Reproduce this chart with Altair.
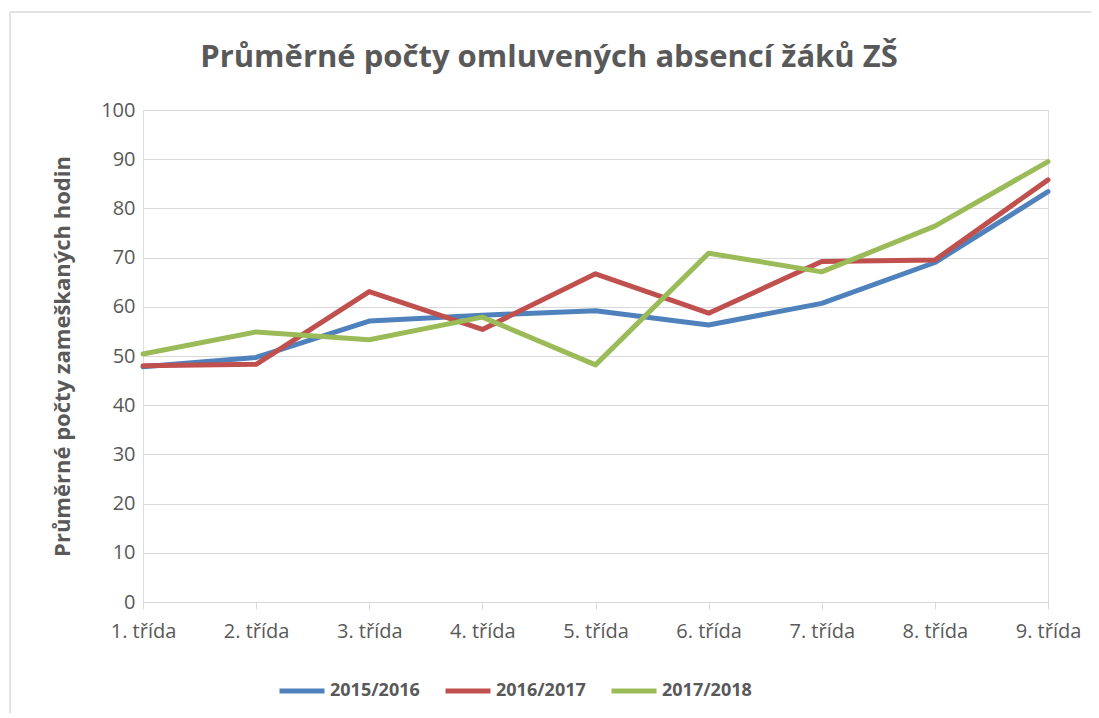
import altair as alt
import pandas as pd

categories = ["1. třída", "2. třída", "3. třída", "4. třída", "5. třída",
              "6. třída", "7. třída", "8. třída", "9. třída"]
series_names = ["2015/2016", "2016/2017", "2017/2018"]
values_2015 = [47.8, 49.7, 57.1, 58.3, 59.2, 56.3, 60.7, 69.0, 83.4]
values_2016 = [48.0, 48.3, 63.1, 55.4, 66.7, 58.7, 69.2, 69.5, 85.8]
values_2017 = [50.4, 54.9, 53.3, 57.9, 48.2, 70.9, 67.1, 76.4, 89.5]
colors = ["#4F81BD", "#C0504D", "#9BBB59"]
title_text = "Průměrné počty omluvených absencí žáků ZŠ"

rows = []
for name, vals in zip(series_names, [values_2015, values_2016, values_2017]):
    for c, v in zip(categories, vals):
        rows.append({"trida": c, "hodnota": v, "rok": name})
df = pd.DataFrame(rows)
single = pd.DataFrame({"t": [title_text]})

FONT = "Open Sans"
GRAY = "#595959"
W, H = 905, 492

lines = alt.Chart(df).mark_line(strokeWidth=5, strokeCap="round", strokeJoin="round").encode(
    x=alt.X("trida:N", sort=categories, scale=alt.Scale(type="point", padding=0),
            axis=alt.Axis(title=None, labelAngle=0, labelFontSize=20, labelColor=GRAY,
                          labelFont=FONT, tickSize=7, tickColor="#d9d9d9",
                          domainColor="#d9d9d9", labelPadding=12, grid=False)),
    y=alt.Y("hodnota:Q", scale=alt.Scale(domain=[0, 100], nice=False),
            axis=alt.Axis(values=list(range(0, 101, 10)), title="Průměrné počty zameškaných hodin",
                          titleFont=FONT, titleFontSize=22, titleFontWeight="bold",
                          titleColor=GRAY, titleX=-81, titleY=H / 2, titleAngle=-90,
                          titleAlign="center", titleBaseline="middle",
                          labelFontSize=20, labelColor=GRAY, labelFont=FONT,
                          labelPadding=8, tickSize=0, domain=False,
                          gridColor="#d9d9d9", gridWidth=1)),
    color=alt.Color("rok:N", sort=series_names,
                    scale=alt.Scale(domain=series_names, range=colors),
                    legend=alt.Legend(title=None, orient="none", direction="horizontal",
                                      legendX=134, legendY=556, symbolType="stroke",
                                      symbolSize=2025, symbolStrokeWidth=5,
                                      labelFont=FONT, labelFontSize=18, labelFontWeight="bold",
                                      labelColor=GRAY, columnPadding=15, labelOffset=3)),
)

title = alt.Chart(single).mark_text(font=FONT, fontSize=31, fontWeight="bold", color=GRAY,
                                    align="center", baseline="middle").encode(
    text="t:N", x=alt.value(406), y=alt.value(-52))

frame_top = alt.Chart(single).mark_rule(color="#d9d9d9", strokeWidth=1.5).encode(
    x=alt.value(-133), x2=alt.value(960), y=alt.value(-98))
frame_left = alt.Chart(single).mark_rule(color="#d9d9d9", strokeWidth=1.5).encode(
    x=alt.value(-133), y=alt.value(-98), y2=alt.value(620))

chart = alt.layer(frame_top, frame_left, title, lines).properties(
    width=W, height=H,
    padding={"left": 135, "top": 102, "right": 43, "bottom": 111},
    autosize=alt.AutoSizeParams(type="none"),
).configure_view(stroke=None).configure(background="white")

chart.save("out.html", embed_options={"renderer": "svg", "actions": False})
